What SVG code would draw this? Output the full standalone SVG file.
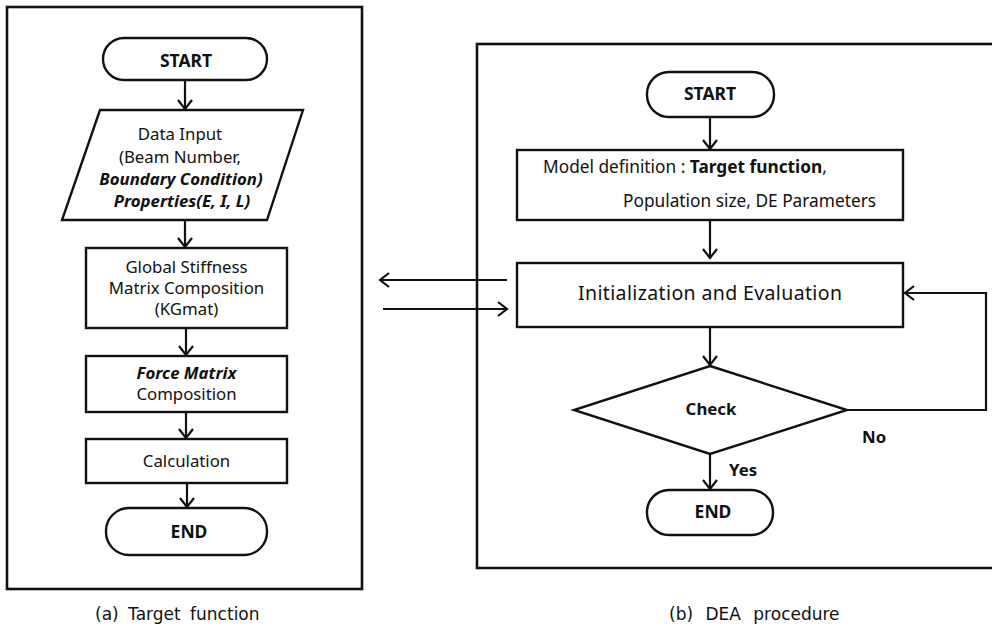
<svg xmlns="http://www.w3.org/2000/svg" width="992" height="629" viewBox="0 0 992 629">
<style>
.panel{fill:none;stroke:#111;stroke-width:2.6}
.node{fill:#fff;stroke:#111;stroke-width:2.4}
.t{font-family:"Noto Sans","DejaVu Sans",sans-serif;font-size:16.8px;fill:#111;text-anchor:middle}
.s{text-anchor:start}
.b{font-weight:bold}
.k{font-weight:bold;font-size:17.5px}
.bi{font-weight:bold;font-style:italic}
.r{font-size:17.3px}
.cap{font-family:"DejaVu Sans",sans-serif;font-size:17px;fill:#111}
.c{fill:none;stroke:#111;stroke-width:2.2}
</style>
<defs>
<marker id="ah" viewBox="0 0 14 16" markerWidth="14" markerHeight="16" refX="11" refY="8" orient="auto" markerUnits="userSpaceOnUse">
<path d="M2,1 L11,8 L2,15" fill="none" stroke="#111" stroke-width="2.2"/>
</marker>
</defs>

<g id="panel-a"><rect class="panel" x="7" y="7" width="355" height="582"/></g>
<g id="panel-b"><rect class="panel" x="477" y="44" width="530" height="524"/></g>

<g id="a-start">
<rect class="node" x="103" y="38" width="164" height="42" rx="21"/>
<text class="t k" x="186" y="67">START</text>
</g>
<g id="a-input">
<polygon class="node" points="100,110 303,110 267,220 62,220"/>
<text class="t" x="180" y="140">Data Input</text>
<text class="t" x="180" y="163">(Beam Number,</text>
<text class="t bi" x="181" y="185">Boundary Condition)</text>
<text class="t bi" x="182" y="207">Properties(E, I, L)</text>
</g>
<g id="a-stiffness">
<rect class="node" x="86" y="248" width="201" height="80"/>
<text class="t" x="186.5" y="273">Global Stiffness</text>
<text class="t" x="186.5" y="294">Matrix Composition</text>
<text class="t" x="186.5" y="315">(KGmat)</text>
</g>
<g id="a-force">
<rect class="node" x="86" y="356" width="201" height="56"/>
<text class="t bi" x="186.5" y="379">Force Matrix</text>
<text class="t" x="186.5" y="400">Composition</text>
</g>
<g id="a-calc">
<rect class="node" x="86" y="439" width="201" height="44"/>
<text class="t" x="186.5" y="467">Calculation</text>
</g>
<g id="a-end">
<rect class="node" x="106" y="508" width="161" height="47" rx="23"/>
<text class="t k" x="189" y="538">END</text>
</g>

<g id="b-start">
<rect class="node" x="647" y="72" width="127" height="45" rx="22"/>
<text class="t k" x="710" y="100">START</text>
</g>
<g id="b-model">
<rect class="node" x="517" y="150" width="386" height="70"/>
<text class="t s r" x="543" y="173">Model definition : <tspan class="b">Target function</tspan>,</text>
<text class="t s r" x="623" y="207">Population size, DE Parameters</text>
</g>
<g id="b-init">
<rect class="node" x="517" y="263" width="386" height="64"/>
<text class="t" x="710" y="300" style="font-size:19.5px" textLength="264">Initialization and Evaluation</text>
</g>
<g id="b-check">
<polygon class="node" points="710,366 847,410 710,454 574,410"/>
<text class="t b" x="711" y="415">Check</text>
</g>
<g id="b-end">
<rect class="node" x="647" y="490" width="126" height="45" rx="22"/>
<text class="t k" x="713" y="518">END</text>
</g>

<g id="connectors">
<line class="c" x1="185" y1="80" x2="185" y2="109" marker-end="url(#ah)"/>
<line class="c" x1="185" y1="220" x2="185" y2="247" marker-end="url(#ah)"/>
<line class="c" x1="186" y1="328" x2="186" y2="355" marker-end="url(#ah)"/>
<line class="c" x1="186" y1="412" x2="186" y2="438" marker-end="url(#ah)"/>
<line class="c" x1="187" y1="483" x2="187" y2="507" marker-end="url(#ah)"/>
<line class="c" x1="710" y1="117" x2="710" y2="149" marker-end="url(#ah)"/>
<line class="c" x1="710" y1="220" x2="710" y2="258" marker-end="url(#ah)"/>
<line class="c" x1="710" y1="327" x2="710" y2="365" marker-end="url(#ah)"/>
<line class="c" x1="710" y1="454" x2="710" y2="489" marker-end="url(#ah)"/>
<polyline class="c" points="847,410 986,410 986,293 905,293" marker-end="url(#ah)"/>
<line class="c" x1="507" y1="280" x2="380" y2="280" marker-end="url(#ah)"/>
<line class="c" x1="383" y1="309" x2="507" y2="309" marker-end="url(#ah)"/>
<text class="t b s" x="862" y="443">No</text>
<text class="t b s" x="729" y="476">Yes</text>
</g>

<g id="captions">
<text class="cap" x="95" y="620" style="word-spacing:4px">(a) Target function</text>
<text class="cap" x="669" y="620" style="word-spacing:7px">(b) DEA procedure</text>
</g>
</svg>
